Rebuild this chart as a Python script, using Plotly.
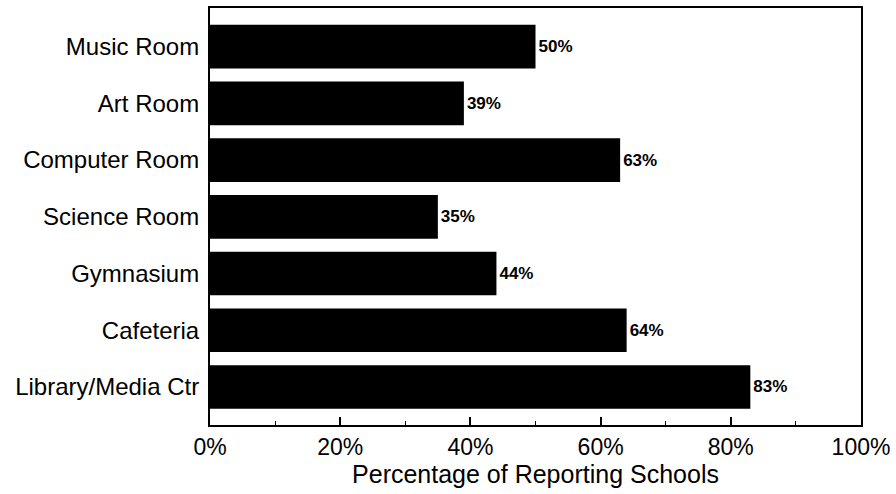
import plotly.graph_objects as go

categories = ["Library/Media Ctr", "Cafeteria", "Gymnasium", "Science Room",
              "Computer Room", "Art Room", "Music Room"]
values = [83, 64, 44, 35, 63, 39, 50]
labels = [f"{v}%" for v in values]

fig = go.Figure(go.Bar(
    y=categories, x=values, orientation="h",
    marker=dict(color="black", line=dict(width=0)),
    text=labels, textposition="outside", cliponaxis=False,
    textfont=dict(family="Liberation Sans, Arial", size=17, color="black", weight="bold"),
))

fig.update_layout(
    width=896, height=494,
    margin=dict(l=210, r=35, t=6, b=69),
    paper_bgcolor="white", plot_bgcolor="white",
    bargap=0.23, showlegend=False,
    font=dict(family="Liberation Sans, Arial", color="black"),
)
fig.update_xaxes(
    range=[0, 100], tickvals=[0, 20, 40, 60, 80, 100],
    ticktext=["0%", "20%", "40%", "60%", "80%", "100%"],
    ticks="inside", ticklen=8, tickwidth=1.5, tickcolor="black",
    minor=dict(tickvals=[10, 30, 50, 70, 90], ticks="inside", ticklen=4, tickcolor="black", tickwidth=1),
    showgrid=False, zeroline=False,
    showline=True, linecolor="black", linewidth=2, mirror=True,
    tickfont=dict(size=23), title=dict(text="Percentage of Reporting Schools", font=dict(size=25), standoff=2),
)
fig.update_yaxes(
    range=[-0.67, 6.68], showgrid=False, zeroline=False,
    showline=True, linecolor="black", linewidth=2, mirror=True,
    tickfont=dict(size=24), ticks="", ticklabelstandoff=4,
)
fig.write_html("out.html")
